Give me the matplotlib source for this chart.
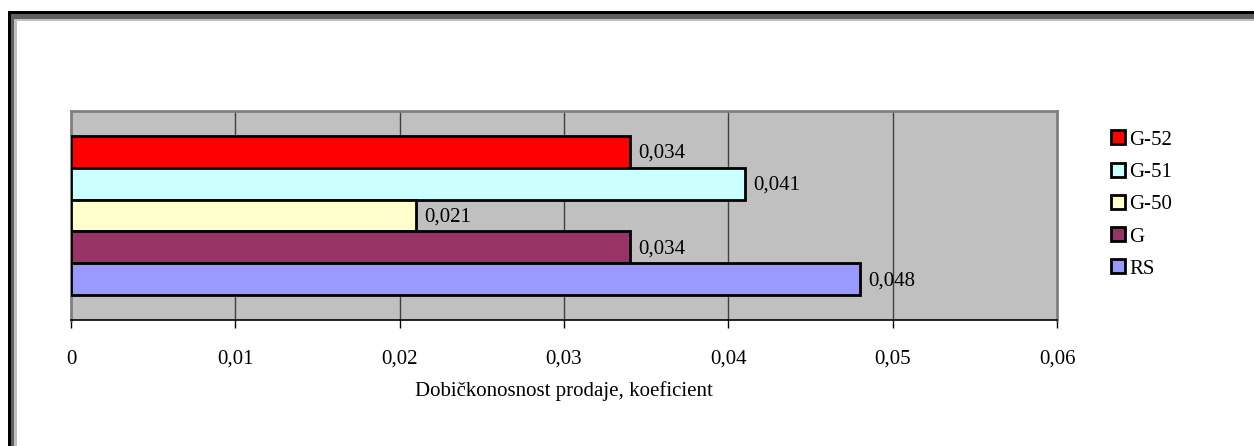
import matplotlib
matplotlib.use("Agg")
import matplotlib.pyplot as plt
from matplotlib.patches import Rectangle, Patch

plt.rcParams['font.family'] = ['Liberation Serif', 'DejaVu Serif']

series = ['G-52', 'G-51', 'G-50', 'G', 'RS']
values = [0.034, 0.041, 0.021, 0.034, 0.048]
colors = ['#FF0000', '#CCFFFF', '#FFFFCC', '#993366', '#9999FF']
xticks = [0, 0.01, 0.02, 0.03, 0.04, 0.05, 0.06]
xticklabels = ['0', '0,01', '0,02', '0,03', '0,04', '0,05', '0,06']
xlabel = 'Dobičkonosnost prodaje, koeficient'

W, H = 1254, 446
FS = 15
fig = plt.figure(figsize=(W / 100, H / 100), dpi=100)
fig.patch.set_facecolor('white')

# outer frame (extends beyond the right and bottom edges)
def px(x, y, w, h, c):
    fig.patches.append(Rectangle((x / W, 1 - (y + h) / H), w / W, h / H,
                                 transform=fig.transFigure, facecolor=c,
                                 edgecolor='none', zorder=-10))
px(8, 11, 2000, 2000, '#000000')
px(10.5, 13.5, 2000, 2000, '#606060')
px(14, 18.5, 2000, 2000, '#C0C0C0')
px(16.5, 20.5, 2000, 2000, '#FFFFFF')

ax = fig.add_axes([71 / W, 1 - 320 / H, (1057 - 71) / W, (320 - 111) / H])
ax.set_zorder(1)
ax.set_facecolor('#C0C0C0')

n = len(series)
h = 0.153
handles = []
for i, (name, v, c) in enumerate(zip(series, values, colors)):
    y = n * h / 2 - (i + 0.5) * h
    ax.barh(y, v, height=h, color=c, edgecolor='black', linewidth=2, zorder=3)
    ax.annotate(f"{v:.3f}".replace('.', ','), xy=(v, y), xytext=(6, -1),
                textcoords='offset points', va='center', ha='left',
                fontsize=FS, color='black', zorder=4)
    handles.append(Patch(facecolor=c, edgecolor='black', linewidth=2, label=name))

ax.set_xlim(0, 0.06)
ax.set_ylim(-0.5, 0.5)
ax.set_xticks(xticks)
ax.set_xticklabels(xticklabels, fontsize=FS)
ax.set_yticks([])
ax.tick_params(axis='x', direction='out', length=6, width=1, color='black', pad=15.5)
ax.xaxis.grid(True, color='#404040', linewidth=1)
ax.set_axisbelow(True)
for s in ['left', 'top', 'right']:
    ax.spines[s].set_color('#808080')
    ax.spines[s].set_linewidth(2)
ax.spines['bottom'].set_color('black')
ax.spines['bottom'].set_linewidth(1.2)
ax.set_xlabel(xlabel, fontsize=FS, labelpad=9)

leg = fig.legend(handles=handles, loc='upper left',
                 bbox_to_anchor=(1101 / W, 1 - 120 / H), frameon=False,
                 fontsize=FS, handlelength=0.66, handleheight=0.66,
                 handletextpad=0.2, labelspacing=0.62, borderpad=0)
leg.set_zorder(2)

fig.savefig('out.png', dpi=100)
